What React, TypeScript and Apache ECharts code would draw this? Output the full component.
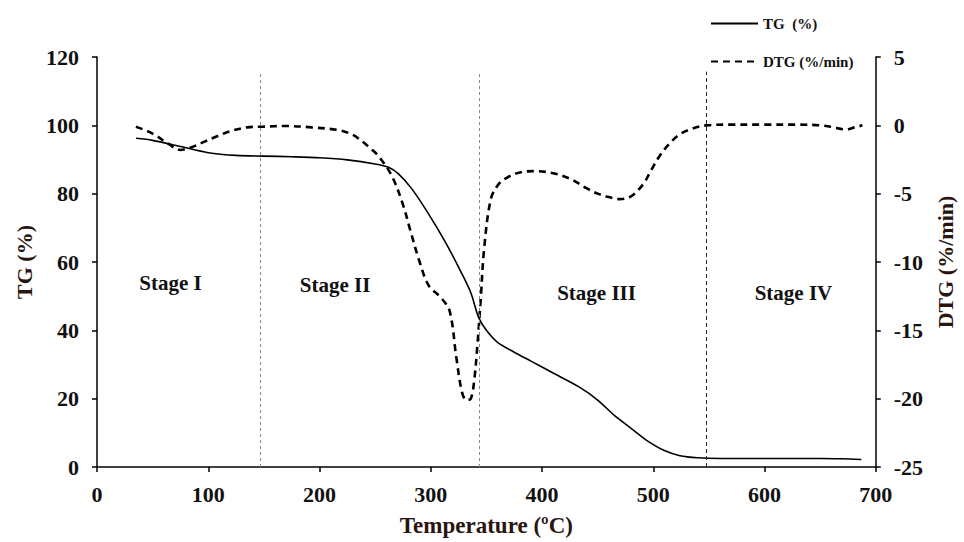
import React, { useEffect, useRef } from "react";
import * as echarts from "echarts";

const tgTemps = [35, 50, 75, 100, 125, 150, 175, 200, 225, 250, 262, 271, 283, 298, 313, 327, 336, 343, 350, 360, 375, 390, 410, 434, 450, 464, 480, 494, 510, 524, 540, 560, 600, 650, 670, 687];
const tgValues = [96.2, 95.6, 93.8, 92.0, 91.2, 91.0, 90.8, 90.5, 89.9, 88.7, 87.7, 85.8, 81.4, 74.1, 65.9, 57.2, 51.0, 43.8, 40.0, 36.5, 33.6, 31.0, 27.5, 23.3, 19.6, 15.4, 11.3, 7.8, 4.8, 3.3, 2.7, 2.5, 2.5, 2.5, 2.4, 2.2];

const dtgTemps = [35, 50, 65, 75, 85, 95, 108, 119, 135, 148, 170, 193, 217, 230, 238, 246, 253, 265, 275, 282, 290, 298, 309, 317, 323, 328, 332, 336, 339, 342, 345, 348, 354, 361, 369, 380, 393, 410, 425, 440, 450, 460, 470, 480, 491, 498, 506, 515, 524, 535, 548, 570, 600, 630, 651, 662, 673, 681, 688];
const dtgValues = [-0.1, -0.6, -1.4, -1.8, -1.6, -1.25, -0.8, -0.45, -0.15, -0.1, -0.05, -0.15, -0.35, -0.7, -1.15, -1.7, -2.25, -3.7, -5.8, -7.8, -10.0, -11.7, -12.6, -13.6, -17.0, -19.5, -20.1, -20.0, -18.7, -16.0, -12.6, -9.0, -5.4, -4.3, -3.8, -3.45, -3.35, -3.5, -3.9, -4.6, -5.0, -5.25, -5.4, -5.2, -4.3, -3.3, -2.2, -1.3, -0.65, -0.25, 0, 0.05, 0.05, 0.05, 0, -0.15, -0.3, -0.15, 0];

const stageNames = ["Stage I", "Stage II", "Stage III", "Stage IV"];
const stageX = [66, 214, 449, 626];
const stageY = [53.8, 53.2, 50.9, 50.9];

const boundaryTemps = [147, 344, 548];
const boundaryTop = 115.7;

const FONT = "'Liberation Serif', 'Times New Roman', serif";
const TXT = "#111";

export default function App() {
  const ref = useRef<HTMLDivElement>(null);
  useEffect(() => {
    if (!ref.current) return;
    const chart = echarts.init(ref.current, undefined, { renderer: "svg" });
    const axisLine = { show: true, lineStyle: { color: "#000", width: 1.5 } };
    const axisTick = { show: true, length: 5, lineStyle: { color: "#000", width: 1.5 } };
    const labelStyle = { color: TXT, fontFamily: FONT, fontWeight: "bold" as const, fontSize: 22 };
    const nameStyle = { color: "#2a1410", fontFamily: FONT, fontWeight: "bold" as const, fontSize: 22 };

    const boundaryStyles = [
      { color: "#888", type: [3, 3], width: 1 },
      { color: "#888", type: [3, 3], width: 1 },
      { color: "#222", type: [4, 3], width: 1 },
    ];

    chart.setOption({
      animation: false,
      backgroundColor: "#fff",
      grid: { left: 97, right: 84, top: 57, bottom: 72 },
      legend: {
        orient: "vertical",
        left: 705,
        top: 11,
        itemWidth: 47,
        itemHeight: 14,
        itemGap: 23,
        itemStyle: { opacity: 0 },
        textStyle: { color: TXT, fontFamily: FONT, fontWeight: "bold", fontSize: 15 },
        data: ["TG  (%)", "DTG (%/min)"],
      },
      xAxis: {
        type: "value",
        min: 0,
        max: 700,
        interval: 100,
        name: "Temperature (ºC)",
        nameLocation: "middle",
        nameGap: 47,
        nameTextStyle: { ...nameStyle, fontSize: 23 },
        axisLine,
        axisTick,
        splitLine: { show: false },
        axisLabel: { ...labelStyle, margin: 16 },
      },
      yAxis: [
        {
          type: "value",
          min: 0,
          max: 120,
          interval: 20,
          name: "TG (%)",
          nameLocation: "middle",
          nameRotate: 90,
          nameGap: 62,
          nameTextStyle: nameStyle,
          axisLine,
          axisTick,
          splitLine: { show: false },
          axisLabel: { ...labelStyle, margin: 18 },
        },
        {
          type: "value",
          min: -25,
          max: 5,
          interval: 5,
          position: "right",
          name: "DTG (%/min)",
          nameLocation: "middle",
          nameRotate: 90,
          nameGap: 58,
          nameTextStyle: nameStyle,
          axisLine,
          axisTick,
          splitLine: { show: false },
          axisLabel: { ...labelStyle, margin: 18 },
        },
      ],
      series: [
        {
          name: "TG  (%)",
          type: "line",
          yAxisIndex: 0,
          smooth: 0.3,
          symbol: "none",
          lineStyle: { color: "#000", width: 1.6 },
          itemStyle: { color: "#000" },
          data: tgTemps.map((t, i) => [t, tgValues[i]]),
          markLine: {
            silent: true,
            symbol: "none",
            label: { show: false },
            data: boundaryTemps.map((t, i) => [
              { coord: [t, 0], lineStyle: boundaryStyles[i] },
              { coord: [t, boundaryTop] },
            ]),
          },
          markPoint: {
            silent: true,
            symbol: "circle",
            symbolSize: 0,
            label: {
              show: true,
              position: "inside",
              formatter: "{b}",
              color: TXT,
              fontFamily: FONT,
              fontWeight: "bold",
              fontSize: 21,
            },
            data: stageNames.map((n, i) => ({ name: n, coord: [stageX[i], stageY[i]] })),
          },
        },
        {
          name: "DTG (%/min)",
          type: "line",
          yAxisIndex: 1,
          smooth: 0.35,
          symbol: "none",
          lineStyle: { color: "#000", width: 2.6, type: [7, 5] },
          itemStyle: { color: "#000" },
          data: dtgTemps.map((t, i) => [t, dtgValues[i]]),
        },
      ],
    });
    return () => chart.dispose();
  }, []);
  return <div ref={ref} style={{ width: 964, height: 542, position: "absolute", left: 0, top: 0 }} />;
}
